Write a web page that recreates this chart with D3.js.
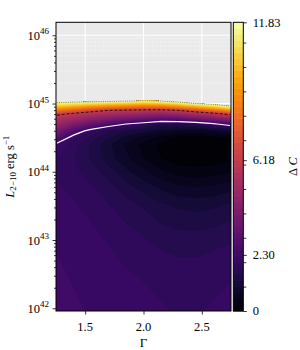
<!DOCTYPE html>
<html>
<head>
<meta charset="utf-8">
<script src="https://cdn.jsdelivr.net/npm/d3@7"></script>
<style>
  body { margin: 0; background: #fff; }
  svg text { font-family: "Liberation Serif", "DejaVu Serif", serif; fill: #000; }
</style>
</head>
<body>
<svg id="chart" width="300" height="350"></svg>
<script>
// grid the Delta C surface was read on
const gammaCols = [1.25, 1.40, 1.55, 1.70, 1.85, 2.00, 2.15, 2.30, 2.45, 2.60, 2.75];
const logLRows = [41.96, 42.5, 43.0, 43.5, 43.8, 44.0, 44.2, 44.4, 44.5, 44.6, 44.7,
                  44.8, 44.85, 44.9, 44.95, 45.0, 45.05, 45.1, 46.19];

// Delta C, one row per logL (bottom to top), one value per Gamma column
const deltaC = [
  [2.28, 2.25, 2.20, 2.15, 2.10, 2.05, 2.00, 1.95, 1.95, 2.00, 2.05],
  [2.25, 2.20, 2.15, 2.10, 2.00, 1.95, 1.90, 1.85, 1.85, 1.90, 1.95],
  [2.20, 2.15, 2.05, 1.95, 1.85, 1.75, 1.65, 1.60, 1.60, 1.65, 1.70],
  [2.10, 2.00, 1.90, 1.75, 1.60, 1.45, 1.30, 1.20, 1.15, 1.20, 1.30],
  [2.00, 1.90, 1.75, 1.55, 1.30, 1.10, 0.90, 0.75, 0.70, 0.75, 0.85],
  [1.95, 1.80, 1.60, 1.35, 1.05, 0.80, 0.55, 0.40, 0.35, 0.40, 0.50],
  [2.00, 1.75, 1.45, 1.10, 0.80, 0.50, 0.25, 0.12, 0.08, 0.12, 0.20],
  [2.20, 1.85, 1.45, 1.05, 0.70, 0.42, 0.20, 0.07, 0.00, 0.05, 0.10],
  [3.04, 2.00, 1.65, 1.25, 0.90, 0.65, 0.40, 0.22, 0.15, 0.20, 0.30],
  [3.96, 2.81, 2.00, 1.55, 1.30, 1.10, 0.90, 0.75, 0.70, 0.80, 1.00],
  [4.89, 4.09, 3.35, 2.73, 2.30, 1.95, 1.50, 1.50, 1.70, 2.20, 2.70],
  [5.81, 5.36, 4.85, 4.45, 4.17, 3.90, 3.53, 3.76, 4.24, 4.60, 5.18],
  [6.51, 6.00, 5.60, 5.32, 5.10, 4.90, 4.69, 4.97, 5.33, 5.82, 6.65],
  [8.17, 7.48, 6.64, 6.18, 6.03, 5.90, 5.85, 6.18, 6.92, 7.83, 9.00],
  [9.84, 9.29, 8.71, 8.35, 8.05, 7.79, 7.82, 8.53, 9.37, 10.2, 11.35],
  [11.5, 11.1, 10.8, 10.5, 10.3, 10.0, 10.2, 10.9, 11.85, 12.5, 13.7],
  [13.2, 12.9, 12.9, 12.7, 12.5, 12.3, 12.5, 13.2, 14.3, 15.0, 16.0],
  [16.0, 16.0, 16.0, 16.0, 16.0, 16.0, 16.0, 16.0, 17.0, 18.0, 19.0],
  [60, 60, 60, 60, 60, 60, 60, 60, 60, 60, 60]
];

const cMax = 11.83;
const nLevels = 48;
const sigmaLevels = [2.30, 6.18, 11.83];
const cbTicks = [0, 2.30, 6.18, 11.83];
const cbTickLabels = ['0', '2.30', '6.18', '11.83'];
const cbMinorTicks = [1, 2, 3, 4, 5, 6, 7, 8, 9, 10, 11];
const gammaTicks = [1.5, 2.0, 2.5];
const gammaTickLabels = ['1.5', '2.0', '2.5'];
const lumDecades = [42, 43, 44, 45, 46];

const svg = d3.select('#chart');
const m = {left: 56, right: 231, top: 22.3, bottom: 311};
const pw = m.right - m.left, ph = m.bottom - m.top;

const x = d3.scaleLinear().domain([1.25, 2.75]).range([m.left, m.right]);
const y = d3.scaleLog().domain([Math.pow(10, 41.96), Math.pow(10, 46.19)]).range([m.bottom, m.top]);
const color = d3.interpolateInferno;

// grid index -> data coords
const gi = d3.scaleLinear().domain(d3.range(gammaCols.length)).range(gammaCols).clamp(true);
const li = d3.scaleLinear().domain(d3.range(logLRows.length)).range(logLRows).clamp(true);
const proj = d3.geoTransform({
  point: function(px, py) {
    this.stream.point(x(gi(px - 0.5)), y(Math.pow(10, li(py - 0.5))));
  }
});
const path = d3.geoPath(proj);

const nx = gammaCols.length, ny = logLRows.length;
const values = deltaC.flat();
const thresholds = d3.range(nLevels).map(i => i * cMax / nLevels);
const contourGen = d3.contours().size([nx, ny]);
const bands = contourGen.thresholds(thresholds)(values);

const defs = svg.append('defs');
// keep the fill out of the region above cMax (unfilled in contourf)
defs.append('clipPath').attr('id', 'fillclip')
  .append('path')
  .attr('clip-rule', 'evenodd')
  .attr('d', `M${m.left},${m.top}H${m.right}V${m.bottom}H${m.left}Z` + path(contourGen.contour(values, cMax)));
defs.append('clipPath').attr('id', 'lineclip')
  .append('rect')
  .attr('x', m.left + 1).attr('y', m.top + 1)
  .attr('width', pw - 2).attr('height', ph - 2);

// axes background + grid
svg.append('rect')
  .attr('x', m.left).attr('y', m.top)
  .attr('width', pw).attr('height', ph)
  .attr('fill', '#eaeaea');

const minorY = [];
lumDecades.concat([41]).forEach(d => {
  for (let k = 2; k < 10; k++) {
    const v = k * Math.pow(10, d);
    if (v > y.domain()[0] && v < y.domain()[1]) minorY.push(v);
  }
});

const grid = svg.append('g');
grid.selectAll('line.minor')
  .data(minorY)
  .enter().append('line')
  .attr('x1', m.left).attr('x2', m.right)
  .attr('y1', d => y(d)).attr('y2', d => y(d))
  .attr('stroke', '#fff')
  .attr('stroke-width', 0.8)
  .attr('stroke-dasharray', '1,1.6');
grid.selectAll('line.majory')
  .data(lumDecades.map(d => Math.pow(10, d)))
  .enter().append('line')
  .attr('x1', m.left).attr('x2', m.right)
  .attr('y1', d => y(d)).attr('y2', d => y(d))
  .attr('stroke', '#fff')
  .attr('stroke-width', 1.1);
grid.selectAll('line.majorx')
  .data(gammaTicks)
  .enter().append('line')
  .attr('x1', d => x(d)).attr('x2', d => x(d))
  .attr('y1', m.top).attr('y2', m.bottom)
  .attr('stroke', '#fff')
  .attr('stroke-width', 1.1);

// filled contours, painted from low to high
svg.append('g')
  .attr('clip-path', 'url(#fillclip)')
  .selectAll('path')
  .data(bands)
  .enter().append('path')
  .attr('d', path)
  .attr('fill', (d, i) => color((thresholds[i] + cMax / nLevels / 2) / cMax))
  .attr('stroke', (d, i) => color((thresholds[i] + cMax / nLevels / 2) / cMax))
  .attr('stroke-width', 0.3);

// 1, 2, 3 sigma contour lines
const lineStyles = [
  {stroke: '#fff', width: 1.2, dash: null},
  {stroke: '#000', width: 0.8, dash: '3,1.8'},
  {stroke: '#66662e', width: 0.8, dash: '1,1.2'}
];
svg.append('g')
  .attr('clip-path', 'url(#lineclip)')
  .selectAll('path')
  .data(sigmaLevels)
  .enter().append('path')
  .attr('d', d => path(contourGen.contour(values, d)))
  .attr('fill', 'none')
  .attr('stroke', (d, i) => lineStyles[i].stroke)
  .attr('stroke-width', (d, i) => lineStyles[i].width)
  .attr('stroke-dasharray', (d, i) => lineStyles[i].dash);

// spines
svg.append('rect')
  .attr('x', m.left).attr('y', m.top)
  .attr('width', pw).attr('height', ph)
  .attr('fill', 'none')
  .attr('stroke', '#000')
  .attr('stroke-width', 1);

// y axis
const yAxisG = svg.append('g').attr('transform', `translate(${m.left},0)`);
yAxisG.append('g').call(d3.axisLeft(y).tickValues(minorY).tickSize(2).tickFormat(''));
yAxisG.append('g').call(d3.axisLeft(y).tickValues(lumDecades.map(d => Math.pow(10, d))).tickSize(3.5).tickFormat(''));
yAxisG.selectAll('.domain').remove();
yAxisG.selectAll('.tick line').attr('stroke', '#000').attr('stroke-width', 0.8);

const yLab = svg.append('g').selectAll('text')
  .data(lumDecades)
  .enter().append('text')
  .attr('x', m.left - 7)
  .attr('y', d => y(Math.pow(10, d)) + 4.5)
  .attr('text-anchor', 'end')
  .attr('font-size', 12.5);
yLab.append('tspan').text('10');
yLab.append('tspan').attr('dy', -5.5).attr('font-size', 9).text(d => d);

// x axis
const xAxisG = svg.append('g').attr('transform', `translate(0,${m.bottom})`)
  .call(d3.axisBottom(x).tickValues(gammaTicks).tickSize(3.5).tickFormat(''));
xAxisG.select('.domain').remove();
xAxisG.selectAll('.tick line').attr('stroke', '#000').attr('stroke-width', 0.8);
svg.append('g').selectAll('text')
  .data(gammaTicks)
  .enter().append('text')
  .attr('x', d => x(d))
  .attr('y', m.bottom + 20)
  .attr('text-anchor', 'middle')
  .attr('font-size', 12.5)
  .text((d, i) => gammaTickLabels[i]);

svg.append('text')
  .attr('x', (m.left + m.right) / 2)
  .attr('y', 347)
  .attr('text-anchor', 'middle')
  .attr('font-size', 13)
  .text('Γ');

const yTitle = svg.append('text')
  .attr('transform', `translate(13.5,${(m.top + m.bottom) / 2}) rotate(-90)`)
  .attr('text-anchor', 'middle')
  .attr('font-size', 12.5);
yTitle.append('tspan').attr('font-style', 'italic').text('L');
yTitle.append('tspan').attr('dy', 2.5).attr('font-size', 9).text('2−10');
yTitle.append('tspan').attr('dy', -2.5).text(' erg s');
yTitle.append('tspan').attr('dy', -4.5).attr('font-size', 9).text('−1');

// colorbar
const cbX = 233.3, cbW = 10;
const cb = d3.scaleLinear().domain([0, cMax]).range([m.bottom, m.top]);
const cbEdges = thresholds.concat([cMax]);
svg.append('g').selectAll('rect')
  .data(thresholds)
  .enter().append('rect')
  .attr('x', cbX)
  .attr('width', cbW)
  .attr('y', (d, i) => cb(cbEdges[i + 1]))
  .attr('height', (d, i) => cb(cbEdges[i]) - cb(cbEdges[i + 1]) + 0.4)
  .attr('fill', (d, i) => color((thresholds[i] + cMax / nLevels / 2) / cMax));
svg.append('rect')
  .attr('x', cbX).attr('y', m.top)
  .attr('width', cbW).attr('height', ph)
  .attr('fill', 'none')
  .attr('stroke', '#000')
  .attr('stroke-width', 1);

const cbAxisG = svg.append('g').attr('transform', `translate(${cbX + cbW},0)`);
cbAxisG.append('g').call(d3.axisRight(cb).tickValues(cbMinorTicks).tickSize(3).tickFormat(''));
cbAxisG.append('g').call(d3.axisRight(cb).tickValues(cbTicks).tickSize(3.5).tickFormat(''));
cbAxisG.selectAll('.domain').remove();
cbAxisG.selectAll('.tick line').attr('stroke', '#000').attr('stroke-width', 0.8);
svg.append('g').selectAll('text')
  .data(cbTicks)
  .enter().append('text')
  .attr('x', cbX + cbW + 9.5)
  .attr('y', d => cb(d) + 4.3)
  .attr('font-size', 12.5)
  .text((d, i) => cbTickLabels[i]);

const cTitle = svg.append('text')
  .attr('transform', `translate(296.5,${(m.top + m.bottom) / 2}) rotate(-90)`)
  .attr('text-anchor', 'middle')
  .attr('font-size', 12.5);
cTitle.append('tspan').text('Δ ');
cTitle.append('tspan').attr('font-style', 'italic').text('C');
</script>
</body>
</html>
